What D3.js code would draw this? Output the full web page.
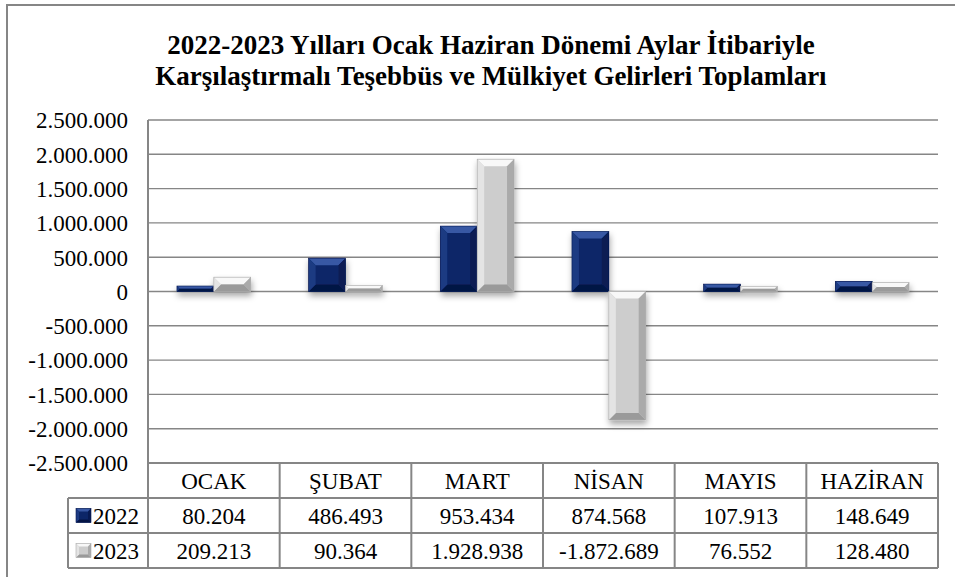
<!DOCTYPE html>
<html lang="tr">
<head>
    <meta charset="UTF-8">
    <title>Teşebbüs ve Mülkiyet Gelirleri</title>
    <style>
        body {
            margin: 0;
            background: white;
        }

        svg text {
            font-family: "Liberation Serif", "Times New Roman", serif;
            fill: black;
        }

        .title {
            font-size: 27px;
            font-weight: bold;
        }

        .tick-label, .cell {
            font-size: 23px;
        }

        .grid {
            stroke: #868686;
            stroke-width: 1.4;
        }

        .table-line {
            stroke: #868686;
            stroke-width: 2;
            fill: none;
        }
    </style>
    <script src="https://d3js.org/d3.v7.min.js"></script>
</head>
<body>
    <div id="chart"></div>

    <script>
        const months = ['OCAK', 'ŞUBAT', 'MART', 'NİSAN', 'MAYIS', 'HAZİRAN'];
        const years = ['2022', '2023'];
        const values2022 = [80204, 486493, 953434, 874568, 107913, 148649];
        const values2023 = [209213, 90364, 1928938, -1872689, 76552, 128480];
        const yTicks = [-2500000, -2000000, -1500000, -1000000, -500000, 0,
                        500000, 1000000, 1500000, 2000000, 2500000];
        const titleLines = [
            '2022-2023 Yılları Ocak Haziran Dönemi Aylar İtibariyle',
            'Karşılaştırmalı Teşebbüs ve Mülkiyet Gelirleri Toplamları'
        ];

        const width = 955;
        const height = 577;

        const plot = { left: 148, right: 938, top: 120, bottom: 463 };
        const rowH = 35;
        const legendLeft = 68;
        const serif = '"Liberation Serif", "Times New Roman", serif';

        const trLocale = d3.formatLocale({
            decimal: ',', thousands: '.', grouping: [3], currency: ['', ''], minus: '-'
        });
        const fmt = trLocale.format(',d');

        const svg = d3.select('#chart')
            .append('svg')
            .attr('width', width)
            .attr('height', height)
            .attr('font-family', serif);

        // soft shadow under the bars
        const defs = svg.append('defs');
        defs.append('filter')
            .attr('id', 'shadow')
            .attr('x', '-30%').attr('y', '-30%')
            .attr('width', '160%').attr('height', '160%')
            .append('feDropShadow')
            .attr('dx', 1).attr('dy', 4)
            .attr('stdDeviation', 3)
            .attr('flood-color', '#000')
            .attr('flood-opacity', 0.35);

        // outer frame (left and top edges only are visible)
        svg.append('path')
            .attr('class', 'table-line')
            .attr('d', `M7,${height}V5H${width}`);

        // title
        svg.append('g')
            .selectAll('text')
            .data(titleLines)
            .join('text')
            .attr('class', 'title')
            .attr('x', 491)
            .attr('y', (d, i) => 54 + i * 31)
            .attr('text-anchor', 'middle')
            .text(d => d);

        const x = d3.scaleBand()
            .domain(months)
            .range([plot.left, plot.right])
            .paddingInner(0.44)
            .paddingOuter(0.22);

        const xCell = d3.scaleBand()
            .domain(months)
            .range([plot.left, plot.right]);

        const xSeries = d3.scaleBand()
            .domain(years)
            .range([0, x.bandwidth()]);

        const y = d3.scaleLinear()
            .domain([-2500000, 2500000])
            .range([plot.bottom, plot.top]);

        // gridlines
        svg.append('g')
            .selectAll('line')
            .data(yTicks)
            .join('line')
            .attr('class', 'grid')
            .attr('x1', plot.left)
            .attr('x2', plot.right)
            .attr('y1', d => y(d))
            .attr('y2', d => y(d));

        // y axis labels
        const yAxis = d3.axisLeft(y)
            .tickValues(yTicks)
            .tickFormat(fmt)
            .tickSize(0)
            .tickPadding(20);

        svg.append('g')
            .attr('transform', `translate(${plot.left},0)`)
            .call(yAxis)
            .attr('font-family', serif)
            .attr('font-size', 23)
            .call(g => g.select('.domain').remove())
            .call(g => g.selectAll('text')
                .attr('class', 'tick-label')
                .attr('font-family', serif)
                .attr('dy', '0.34em'));

        const colors = {
            '2022': { face: '#0c2668', top: '#3858a4', left: '#1c3a82', right: '#071a52', bottom: '#041445' },
            '2023': { face: '#cdcdcd', top: '#f8f8f8', left: '#e4e4e4', right: '#aaaaaa', bottom: '#9a9a9a' }
        };

        function bevelBar(g, bx, by, bw, bh, c, maxB) {
            const b = Math.min(maxB, bw / 2, bh / 2);
            const x0 = bx, x1 = bx + bw, y0 = by, y1 = by + bh;
            const g2 = g.append('g');
            g2.append('rect')
                .attr('x', x0).attr('y', y0)
                .attr('width', bw).attr('height', bh)
                .attr('fill', c.face);
            const sides = [
                [c.top, [[x0, y0], [x1, y0], [x1 - b, y0 + b], [x0 + b, y0 + b]]],
                [c.bottom, [[x0, y1], [x1, y1], [x1 - b, y1 - b], [x0 + b, y1 - b]]],
                [c.left, [[x0, y0], [x0 + b, y0 + b], [x0 + b, y1 - b], [x0, y1]]],
                [c.right, [[x1, y0], [x1 - b, y0 + b], [x1 - b, y1 - b], [x1, y1]]]
            ];
            sides.forEach(([fill, pts]) => {
                g2.append('polygon')
                    .attr('points', pts.map(p => p.join(',')).join(' '))
                    .attr('fill', fill);
            });
            g2.append('rect')
                .attr('x', x0).attr('y', y0)
                .attr('width', bw).attr('height', bh)
                .attr('fill', 'none')
                .attr('stroke', c.right)
                .attr('stroke-width', 0.6);
            return g2;
        }

        const series = [
            { year: '2022', values: values2022 },
            { year: '2023', values: values2023 }
        ];

        const barsG = svg.append('g').attr('filter', 'url(#shadow)');
        series.forEach(s => {
            s.values.forEach((v, i) => {
                const bx = x(months[i]) + xSeries(s.year);
                const by = Math.min(y(v), y(0));
                const bh = Math.abs(y(v) - y(0));
                bevelBar(barsG, bx, by, xSeries.bandwidth(), bh, colors[s.year], 7);
            });
        });

        // data table
        const table = svg.append('g');
        const r0 = plot.bottom;
        const r1 = r0 + rowH;
        const r2 = r1 + rowH;
        const r3 = r2 + rowH;

        table.append('line').attr('class', 'table-line')
            .attr('x1', plot.left).attr('x2', plot.right).attr('y1', r0).attr('y2', r0);
        [r1, r2, r3].forEach(ry => {
            table.append('line').attr('class', 'table-line')
                .attr('x1', legendLeft).attr('x2', plot.right).attr('y1', ry).attr('y2', ry);
        });
        // value axis line runs through the table
        table.append('line').attr('class', 'table-line')
            .attr('x1', plot.left).attr('x2', plot.left).attr('y1', plot.top).attr('y2', r3);
        table.append('line').attr('class', 'table-line')
            .attr('x1', legendLeft).attr('x2', legendLeft).attr('y1', r1).attr('y2', r3);
        months.forEach(m => {
            const cx = xCell(m) + xCell.bandwidth();
            table.append('line').attr('class', 'table-line')
                .attr('x1', cx).attr('x2', cx).attr('y1', r0).attr('y2', r3);
        });

        table.append('g')
            .selectAll('text')
            .data(months)
            .join('text')
            .attr('class', 'cell')
            .attr('x', d => xCell(d) + xCell.bandwidth() / 2)
            .attr('y', (r0 + r1) / 2)
            .attr('dy', '0.35em')
            .attr('text-anchor', 'middle')
            .text(d => d);

        series.forEach((s, si) => {
            const rowMid = (si === 0 ? (r1 + r2) : (r2 + r3)) / 2;
            table.append('g')
                .selectAll('text')
                .data(s.values)
                .join('text')
                .attr('class', 'cell')
                .attr('x', (d, i) => xCell(months[i]) + xCell.bandwidth() / 2)
                .attr('y', rowMid)
                .attr('dy', '0.35em')
                .attr('text-anchor', 'middle')
                .text(d => fmt(d));

            // legend key
            bevelBar(table, 76, rowMid - 7, 15, 14, colors[s.year], 3);
            table.append('text')
                .attr('class', 'cell')
                .attr('x', 93)
                .attr('y', rowMid)
                .attr('dy', '0.35em')
                .text(s.year);
        });
    </script>
</body>
</html>
